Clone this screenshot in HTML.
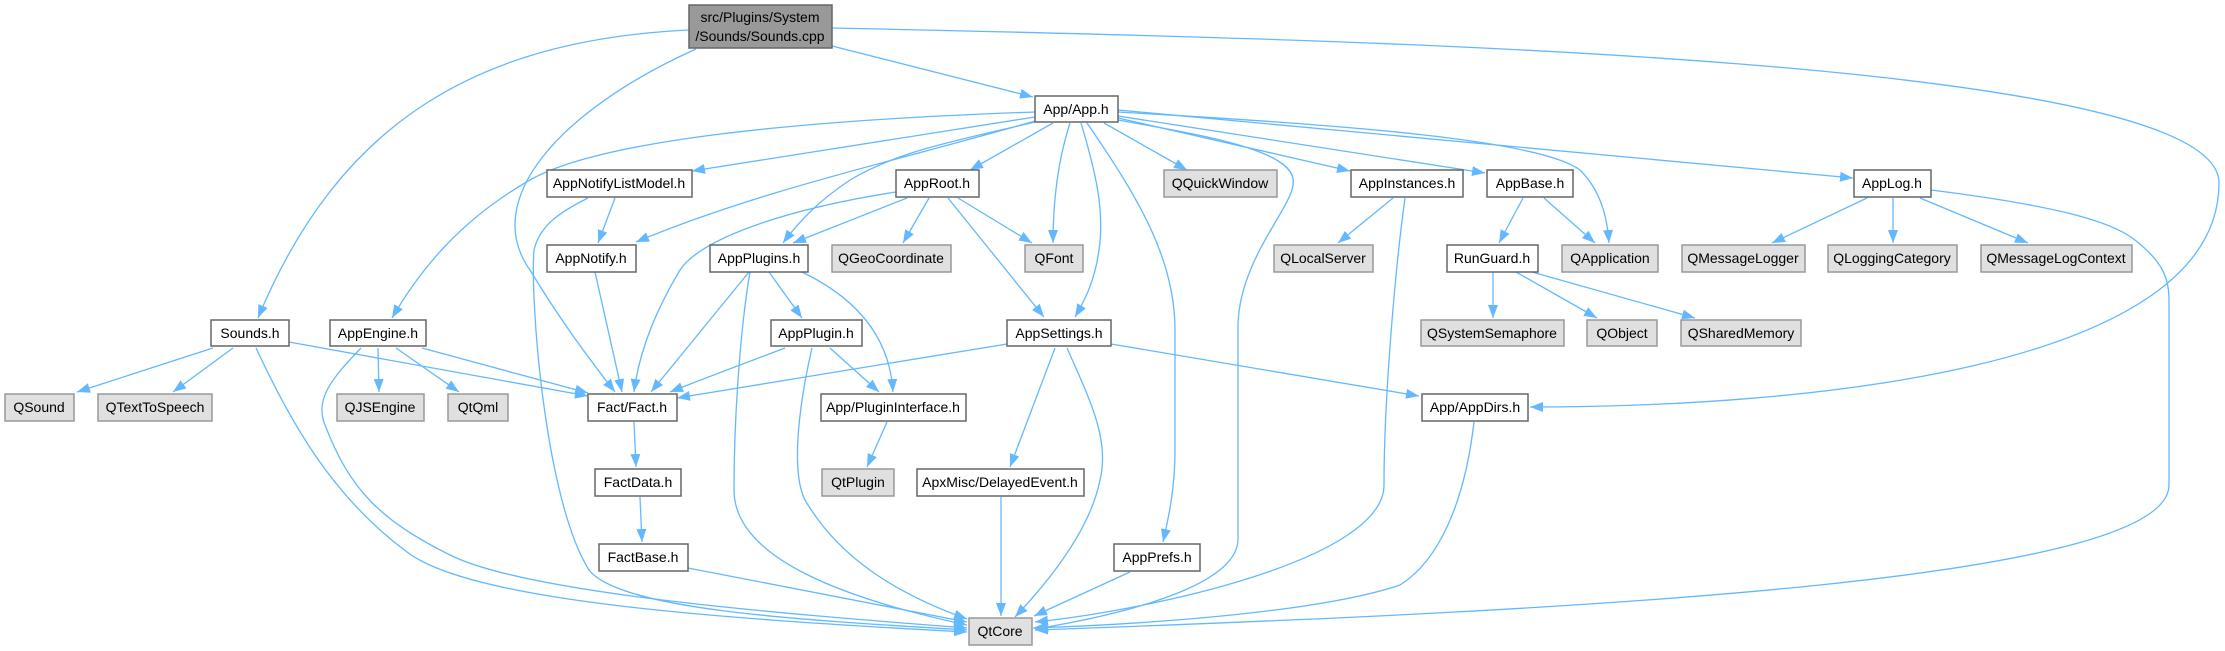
<!DOCTYPE html>
<html><head><meta charset="utf-8"><style>
html,body{margin:0;padding:0;background:#fff;}
svg{display:block;}
text{font-family:"Liberation Sans",Arial,sans-serif;font-size:14px;fill:#000;}
.e{fill:none;stroke:#63b8ff;stroke-width:1.3;}
.w{fill:#fff;stroke:#666;stroke-width:1.5;}
.g{fill:#e0e0e0;stroke:#999;stroke-width:1.5;}
.s{fill:#999;stroke:#666;stroke-width:1.5;}
</style></head><body>
<svg width="2225" height="651" viewBox="0 0 2225 651" xmlns="http://www.w3.org/2000/svg">
<defs><marker id="a" markerUnits="userSpaceOnUse" markerWidth="14" markerHeight="12" refX="13" refY="5" orient="auto"><path d="M0,0 L13,5 L0,10 Z" fill="#63b8ff"/></marker></defs>
<g class="e" marker-end="url(#a)">
<path d="M689,30 C480,40 340,120 258,318"/>
<path d="M696,49 C560,110 480,200 530,270 C560,320 590,360 615,392"/>
<path d="M832,46 L1033,97"/>
<path d="M832,28 C1400,40 2219,60 2219,183 C2219,370 1800,407 1530,407"/>
<path d="M1035,112 C800,120 600,140 530,180 C460,220 420,270 392,318"/>
<path d="M1035,117 L692,171"/>
<path d="M1035,121 C900,160 760,190 636,242"/>
<path d="M1035,122 C960,140 900,150 850,180 C820,200 800,220 783,243"/>
<path d="M1053,123 L970,170"/>
<path d="M1070,123 C1058,160 1053,200 1053,243"/>
<path d="M1081,123 C1095,170 1105,210 1099,250 C1095,280 1085,300 1075,317"/>
<path d="M1087,123 C1140,200 1175,260 1175,330 L1175,450 C1175,490 1168,520 1163,542"/>
<path d="M1104,123 L1187,170"/>
<path d="M1118,120 C1200,135 1300,150 1293,185 C1290,210 1240,260 1238,324 L1238,539 C1238,580 1150,610 1035,629"/>
<path d="M1118,118 L1350,171"/>
<path d="M1118,116 L1485,173"/>
<path d="M1118,112 C1350,125 1540,140 1580,170 C1600,190 1607,215 1609,243"/>
<path d="M1118,110 L1853,178"/>
<path d="M615,198 L598,243"/>
<path d="M588,198 C560,212 540,225 534,250 C530,300 545,500 589,570 C620,610 800,620 967,630"/>
<path d="M595,272 L622,392"/>
<path d="M896,192 C780,210 700,240 680,270 C650,320 638,360 634,392"/>
<path d="M907,198 L793,243"/>
<path d="M929,198 L903,243"/>
<path d="M958,198 L1032,243"/>
<path d="M948,198 L1044,317"/>
<path d="M749,272 L651,392"/>
<path d="M750,272 C740,330 734,420 734,490 C734,560 850,600 967,625"/>
<path d="M769,272 L802,318"/>
<path d="M802,272 C860,300 890,340 893,392"/>
<path d="M1393,198 L1338,243"/>
<path d="M1405,198 C1395,270 1384,400 1384,485 C1384,560 1150,610 1035,622"/>
<path d="M1523,198 L1499,243"/>
<path d="M1544,198 L1595,243"/>
<path d="M1493,272 L1493,318"/>
<path d="M1516,272 L1597,318"/>
<path d="M1532,272 L1695,318"/>
<path d="M1867,198 L1772,243"/>
<path d="M1893,198 L1893,243"/>
<path d="M1920,198 L2028,243"/>
<path d="M1931,190 C2050,205 2110,220 2135,240 C2160,260 2169,275 2169,300 L2169,485 C2169,580 1600,610 1035,630"/>
<path d="M213,348 L77,392"/>
<path d="M233,348 L173,392"/>
<path d="M289,342 L588,396"/>
<path d="M256,348 C290,420 330,495 407,552 C470,600 700,618 967,632"/>
<path d="M378,348 L379,392"/>
<path d="M396,348 L459,392"/>
<path d="M422,348 L588,393"/>
<path d="M361,348 C330,380 315,400 325,425 C350,490 380,520 450,555 C530,595 800,615 967,628"/>
<path d="M634,422 L636,467"/>
<path d="M640,497 L642,542"/>
<path d="M688,568 L967,622"/>
<path d="M785,348 C740,365 700,380 670,392"/>
<path d="M812,348 C800,400 790,470 805,500 C840,560 900,595 967,619"/>
<path d="M830,348 L879,392"/>
<path d="M887,422 L867,467"/>
<path d="M1007,344 L677,398"/>
<path d="M1055,348 L1010,467"/>
<path d="M1067,348 C1090,400 1110,440 1100,480 C1090,530 1050,580 1015,617"/>
<path d="M1111,344 L1419,396"/>
<path d="M1001,497 L1001,616"/>
<path d="M1130,572 L1034,616"/>
<path d="M1474,422 C1465,500 1440,560 1400,585 C1320,612 1150,624 1033,628"/>
</g>
<g>
<rect class="s" x="689" y="5" width="143" height="43"/>
<text x="760" y="22" text-anchor="middle">src/Plugins/System</text>
<text x="760" y="41" text-anchor="middle">/Sounds/Sounds.cpp</text>
</g>
<g text-anchor="middle">
<rect class="w" x="1035" y="96" width="83" height="26"/><text x="1076" y="114">App/App.h</text>
<rect class="w" x="547" y="170" width="145" height="27"/><text x="619" y="188">AppNotifyListModel.h</text>
<rect class="w" x="896" y="170" width="83" height="27"/><text x="937" y="188">AppRoot.h</text>
<rect class="g" x="1164" y="170" width="113" height="27"/><text x="1220" y="188">QQuickWindow</text>
<rect class="w" x="1351" y="170" width="112" height="27"/><text x="1407" y="188">AppInstances.h</text>
<rect class="w" x="1487" y="170" width="86" height="27"/><text x="1530" y="188">AppBase.h</text>
<rect class="w" x="1854" y="170" width="77" height="27"/><text x="1892" y="188">AppLog.h</text>
<rect class="w" x="547" y="245" width="89" height="27"/><text x="591" y="263">AppNotify.h</text>
<rect class="w" x="710" y="245" width="98" height="27"/><text x="759" y="263">AppPlugins.h</text>
<rect class="g" x="832" y="245" width="119" height="27"/><text x="891" y="263">QGeoCoordinate</text>
<rect class="g" x="1025" y="245" width="58" height="27"/><text x="1054" y="263">QFont</text>
<rect class="g" x="1274" y="245" width="99" height="27"/><text x="1323" y="263">QLocalServer</text>
<rect class="w" x="1447" y="245" width="91" height="27"/><text x="1492" y="263">RunGuard.h</text>
<rect class="g" x="1562" y="245" width="96" height="27"/><text x="1610" y="263">QApplication</text>
<rect class="g" x="1682" y="245" width="123" height="27"/><text x="1743" y="263">QMessageLogger</text>
<rect class="g" x="1828" y="245" width="129" height="27"/><text x="1892" y="263">QLoggingCategory</text>
<rect class="g" x="1981" y="245" width="151" height="27"/><text x="2056" y="263">QMessageLogContext</text>
<rect class="w" x="211" y="320" width="78" height="26"/><text x="250" y="338">Sounds.h</text>
<rect class="w" x="330" y="320" width="96" height="26"/><text x="378" y="338">AppEngine.h</text>
<rect class="w" x="771" y="320" width="91" height="26"/><text x="816" y="338">AppPlugin.h</text>
<rect class="w" x="1007" y="320" width="104" height="26"/><text x="1059" y="338">AppSettings.h</text>
<rect class="g" x="1421" y="320" width="143" height="26"/><text x="1492" y="338">QSystemSemaphore</text>
<rect class="g" x="1587" y="320" width="70" height="26"/><text x="1622" y="338">QObject</text>
<rect class="g" x="1681" y="320" width="120" height="26"/><text x="1741" y="338">QSharedMemory</text>
<rect class="g" x="5" y="394" width="69" height="27"/><text x="39" y="412">QSound</text>
<rect class="g" x="98" y="394" width="114" height="27"/><text x="155" y="412">QTextToSpeech</text>
<rect class="g" x="337" y="394" width="87" height="27"/><text x="380" y="412">QJSEngine</text>
<rect class="g" x="448" y="394" width="60" height="27"/><text x="478" y="412">QtQml</text>
<rect class="w" x="588" y="394" width="89" height="27"/><text x="632" y="412">Fact/Fact.h</text>
<rect class="w" x="821" y="394" width="145" height="27"/><text x="893" y="412">App/PluginInterface.h</text>
<rect class="w" x="1422" y="394" width="106" height="27"/><text x="1475" y="412">App/AppDirs.h</text>
<rect class="w" x="595" y="469" width="86" height="27"/><text x="638" y="487">FactData.h</text>
<rect class="g" x="822" y="469" width="72" height="27"/><text x="858" y="487">QtPlugin</text>
<rect class="w" x="917" y="469" width="167" height="27"/><text x="1000" y="487">ApxMisc/DelayedEvent.h</text>
<rect class="w" x="599" y="544" width="89" height="27"/><text x="643" y="562">FactBase.h</text>
<rect class="w" x="1114" y="544" width="86" height="27"/><text x="1157" y="562">AppPrefs.h</text>
<rect class="g" x="969" y="618" width="63" height="27"/><text x="1000" y="636">QtCore</text>
</g>
</svg>
</body></html>
